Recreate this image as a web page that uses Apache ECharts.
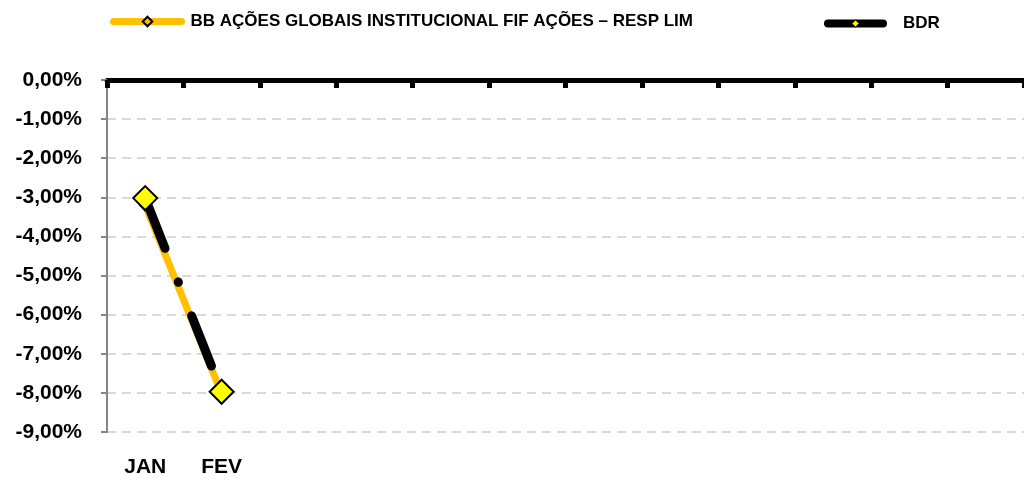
<!DOCTYPE html>
<html>
<head>
<meta charset="utf-8">
<script src="https://cdn.jsdelivr.net/npm/echarts@6/dist/echarts.min.js"></script>
<style>
  html, body { margin: 0; padding: 0; background: #fff; }
  #chart { width: 1024px; height: 478px; }
</style>
</head>
<body>
<div id="chart"></div>
<script>
const months = ['JAN', 'FEV', 'MAR', 'ABR', 'MAI', 'JUN', 'JUL', 'AGO', 'SET', 'OUT', 'NOV', 'DEZ'];
const tick_labels = ['JAN', 'FEV', '', '', '', '', '', '', '', '', '', ''];
const fund_name = 'BB AÇÕES GLOBAIS INSTITUCIONAL FIF AÇÕES – RESP LIM';
const bench_name = 'BDR';
// monthly returns in %
const fund_values = [-3.2, -8.02, null, null, null, null, null, null, null, null, null, null];
const bench_values = [-3.02, -7.97, null, null, null, null, null, null, null, null, null, null];

const font = 'Liberation Sans';
let chart = echarts.init(document.getElementById('chart'));
chart.setOption({
    animation: false,
    backgroundColor: '#fff',
    grid: { left: 107, top: 80, right: -7, bottom: 45 },
    legend: [
        {
            data: [fund_name], left: 105, top: 8,
            itemWidth: 68, itemHeight: 12,
            lineStyle: { width: 7, cap: 'round' },
            textStyle: { fontFamily: font, fontWeight: 'bold', fontSize: 17, color: '#000', padding: [0, 0, 0, 4] }
        },
        {
            data: [bench_name], left: 819, top: 10,
            itemWidth: 55, itemHeight: 9,
            lineStyle: { width: 8, type: 'solid', cap: 'round' },
            itemStyle: { borderWidth: 1 },
            textStyle: { fontFamily: font, fontWeight: 'bold', fontSize: 17, color: '#000', padding: [0, 0, 0, 15] }
        }
    ],
    xAxis: [
        {
            type: 'category', position: 'top', data: months,
            axisLine: { onZero: false, lineStyle: { color: '#000', width: 5 } },
            axisTick: { show: true, inside: true, length: 8, interval: 0, lineStyle: { color: '#000', width: 5 } },
            axisLabel: { show: false },
            splitLine: { show: false }
        },
        {
            type: 'category', position: 'bottom', data: months,
            axisLine: { show: false, onZero: false },
            axisTick: { show: false },
            axisLabel: {
                interval: 0, margin: 25,
                fontFamily: font, fontWeight: 'bold', fontSize: 21, color: '#000',
                formatter: (v, i) => tick_labels[i]
            }
        }
    ],
    yAxis: {
        type: 'value', min: -9, max: 0, interval: 1,
        axisLine: { show: true, lineStyle: { color: '#868686', width: 2 } },
        axisTick: { show: true, length: 6, lineStyle: { color: '#868686', width: 2 } },
        axisLabel: {
            margin: 25, fontFamily: font, fontWeight: 'bold', fontSize: 21, color: '#000',
            formatter: v => v.toFixed(2).replace('.', ',') + '%'
        },
        splitLine: { lineStyle: { color: '#d9d9d9', width: 2, type: [9, 6] } }
    },
    series: [
        {
            name: fund_name, type: 'line', xAxisIndex: 0, data: fund_values, z: 2,
            lineStyle: { color: '#FFC000', width: 7 },
            symbol: 'diamond', symbolSize: 11,
            itemStyle: { color: '#FFC000', borderColor: '#000', borderWidth: 1.5 }
        },
        {
            name: bench_name, type: 'line', xAxisIndex: 0, data: bench_values, z: 3,
            lineStyle: { color: '#000', width: 9, type: [54, 36, 0.5, 36], cap: 'round' },
            symbol: 'diamond', symbolSize: 24,
            itemStyle: { color: '#FFFF00', borderColor: '#000', borderWidth: 2 }
        }
    ]
});
</script>
</body>
</html>
